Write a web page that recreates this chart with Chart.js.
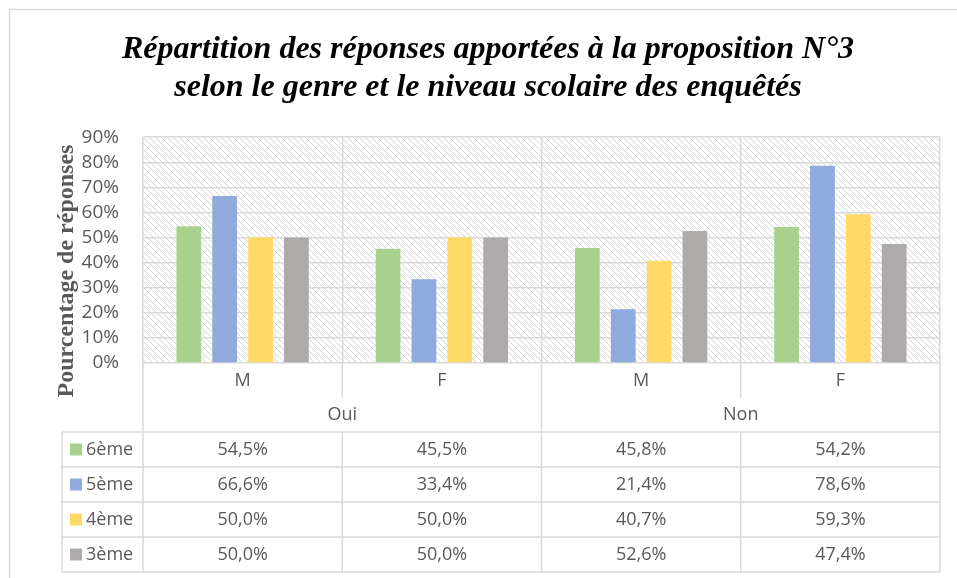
<!DOCTYPE html>
<html lang="fr">
<head>
<meta charset="utf-8">
<title>Répartition des réponses – proposition N°3</title>
<script src="https://cdn.jsdelivr.net/npm/chart.js@4.4.1/dist/chart.umd.min.js"></script>
<style>
  html, body { margin: 0; padding: 0; background: #fff; overflow: hidden; }
  #wrap { width: 957px; height: 578px; }
</style>
</head>
<body>
<div id="wrap"><canvas id="chart" width="957" height="578"></canvas></div>
<script>
// Genre (axe X) et type de réponse (regroupement)
const genres = ['M', 'F', 'M', 'F'];
const reponses = ['Oui', 'Non'];

// Niveaux scolaires et pourcentages par colonne
const niveaux = ['6ème', '5ème', '4ème', '3ème'];
const val6eme = [54.5, 45.5, 45.8, 54.2];
const val5eme = [66.6, 33.4, 21.4, 78.6];
const val4eme = [50.0, 50.0, 40.7, 59.3];
const val3eme = [50.0, 50.0, 52.6, 47.4];
const couleurs = ['#A9D18E', '#8FAADC', '#FFD966', '#AEAAAA'];

const yTicks = [0, 10, 20, 30, 40, 50, 60, 70, 80, 90];

const GRIS_LIGNE = '#d9d9d9';
const GRIS_TEXTE = '#595959';
const POLICE = '"Open Sans", "Noto Sans", sans-serif';

// Fond hachuré de la zone de tracé
function hachures(ctx) {
    const c = document.createElement('canvas');
    c.width = c.height = 6;
    const p = c.getContext('2d');
    p.fillStyle = '#fff';
    p.fillRect(0, 0, 6, 6);
    p.strokeStyle = '#d4d4d4';
    p.lineWidth = 1;
    p.beginPath();
    p.moveTo(-1, -1); p.lineTo(7, 7);
    p.moveTo(-1, 5); p.lineTo(1, 7);
    p.moveTo(5, -1); p.lineTo(7, 1);
    p.stroke();
    return ctx.createPattern(c, 'repeat');
}

function pct(v) {
    return v.toFixed(1).replace('.', ',') + '%';
}

// Table de données sous le graphique + titre de l'axe Y + cadre
const tablePlugin = {
    id: 'tableDonnees',
    beforeDraw(chart) {
        const { ctx, chartArea: a } = chart;
        ctx.save();
        ctx.fillStyle = hachures(ctx);
        ctx.fillRect(a.left, a.top, a.width, a.height);
        ctx.restore();
    },
    afterDraw(chart) {
        const { ctx, chartArea: a } = chart;
        const n = chart.data.labels.length;
        const colW = a.width / n;
        const rowH = 35;
        const yGenre = a.bottom;            // ligne M / F
        const yRep = a.bottom + 35;         // ligne Oui / Non
        const yTab = a.bottom + 69;         // début des lignes de valeurs
        const yFin = yTab + rowH * niveaux.length;
        const xLeg = 62;

        ctx.save();
        ctx.strokeStyle = GRIS_LIGNE;
        ctx.lineWidth = 1.5;
        ctx.beginPath();
        // verticales
        for (let i = 0; i <= n; i++) {
            const x = a.left + i * colW;
            if (i === 0 || i === n || i === n / 2) {
                ctx.moveTo(x, a.bottom); ctx.lineTo(x, yFin);
            } else {
                ctx.moveTo(x, a.bottom); ctx.lineTo(x, yRep);
                ctx.moveTo(x, yTab); ctx.lineTo(x, yFin);
            }
        }
        ctx.moveTo(xLeg, yTab); ctx.lineTo(xLeg, yFin);
        // horizontales
        for (let r = 0; r <= niveaux.length; r++) {
            const y = yTab + r * rowH;
            ctx.moveTo(xLeg, y); ctx.lineTo(a.right, y);
        }
        ctx.stroke();

        ctx.fillStyle = GRIS_TEXTE;
        ctx.font = '18px ' + POLICE;
        ctx.textAlign = 'center';
        ctx.textBaseline = 'middle';
        chart.data.labels.forEach((g, i) => {
            ctx.fillText(g, a.left + (i + 0.5) * colW, yGenre + 18);
        });
        reponses.forEach((r, i) => {
            ctx.fillText(r, a.left + (i + 0.5) * colW * 2, yRep + 17);
        });

        chart.data.datasets.forEach((ds, r) => {
            const yc = yTab + r * rowH + rowH / 2;
            ds.data.forEach((v, i) => {
                ctx.fillStyle = GRIS_TEXTE;
                ctx.textAlign = 'center';
                ctx.fillText(pct(v), a.left + (i + 0.5) * colW, yc);
            });
            ctx.fillStyle = ds.backgroundColor;
            ctx.fillRect(xLeg + 8, yc - 6, 12, 12);
            ctx.fillStyle = GRIS_TEXTE;
            ctx.textAlign = 'left';
            ctx.fillText(ds.label, xLeg + 24, yc);
        });

        // titre de l'axe Y
        ctx.save();
        ctx.translate(67, 271);
        ctx.rotate(-Math.PI / 2);
        ctx.font = 'bold 24px "Liberation Serif", "DejaVu Serif", serif';
        ctx.fillStyle = GRIS_TEXTE;
        ctx.textAlign = 'center';
        ctx.fillText('Pourcentage de réponses', 0, 0);
        ctx.restore();

        // cadre du graphique
        ctx.strokeStyle = GRIS_LIGNE;
        ctx.lineWidth = 1.5;
        ctx.beginPath();
        ctx.moveTo(9.5, chart.height);
        ctx.lineTo(9.5, 9.5);
        ctx.lineTo(chart.width, 9.5);
        ctx.stroke();
        ctx.restore();
    }
};

const series = [val6eme, val5eme, val4eme, val3eme];

new Chart(document.getElementById('chart'), {
    type: 'bar',
    data: {
        labels: genres,
        datasets: niveaux.map((niv, i) => ({
            label: niv,
            data: series[i],
            backgroundColor: couleurs[i],
            borderWidth: 0,
            categoryPercentage: 0.72,
            barPercentage: 0.69
        }))
    },
    options: {
        responsive: false,
        animation: false,
        layout: { padding: { left: 36, right: 17, top: 31, bottom: 0 } },
        plugins: {
            legend: { display: false },
            tooltip: { enabled: false },
            title: {
                display: true,
                text: ['Répartition des réponses apportées à la proposition N°3',
                       'selon le genre et le niveau scolaire des enquêtés'],
                color: '#000',
                font: { family: '"Liberation Serif", serif', size: 32, weight: 'bold', style: 'italic', lineHeight: 1.19 },
                padding: { top: 0, bottom: 30 }
            }
        },
        scales: {
            x: {
                grid: { color: GRIS_LIGNE, lineWidth: 1.5, offset: true, drawTicks: false },
                border: { display: false },
                ticks: { display: false },
                afterFit(scale) { scale.height = 215; }
            },
            y: {
                min: 0,
                max: 90,
                grid: { color: GRIS_LIGNE, lineWidth: 1.5, drawTicks: false },
                border: { display: false },
                ticks: {
                    autoSkip: false,
                    padding: 24,
                    color: GRIS_TEXTE,
                    font: { family: POLICE, size: 19 },
                    callback: v => v + '%'
                },
                afterBuildTicks(scale) { scale.ticks = yTicks.map(v => ({ value: v })); },
                afterFit(scale) { scale.width = 107; }
            }
        }
    },
    plugins: [tablePlugin]
});
</script>
</body>
</html>
